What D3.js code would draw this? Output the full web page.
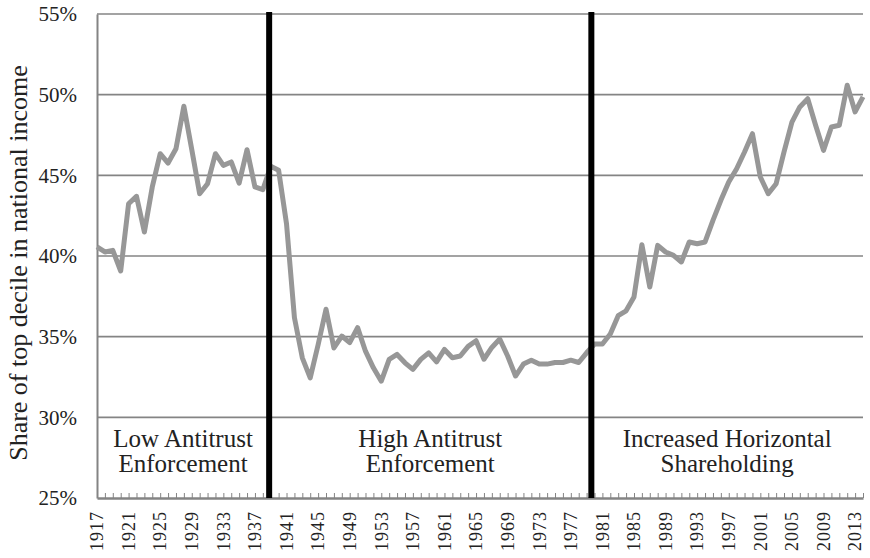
<!DOCTYPE html>
<html lang="en">
<head>
    <meta charset="UTF-8">
    <title>Top decile share</title>
    <script src="https://d3js.org/d3.v7.min.js"></script>
    <style>
        body { margin: 0; background: #fff; }
    </style>
</head>
<body>
<svg id="myPlot" width="870" height="558"></svg>

<script>
    // share of top decile in national income, 1917-2014
    const years = [
        1917, 1918, 1919, 1920, 1921, 1922, 1923, 1924, 1925, 1926,
        1927, 1928, 1929, 1930, 1931, 1932, 1933, 1934, 1935, 1936,
        1937, 1938, 1939, 1940, 1941, 1942, 1943, 1944, 1945, 1946,
        1947, 1948, 1949, 1950, 1951, 1952, 1953, 1954, 1955, 1956,
        1957, 1958, 1959, 1960, 1961, 1962, 1963, 1964, 1965, 1966,
        1967, 1968, 1969, 1970, 1971, 1972, 1973, 1974, 1975, 1976,
        1977, 1978, 1979, 1980, 1981, 1982, 1983, 1984, 1985, 1986,
        1987, 1988, 1989, 1990, 1991, 1992, 1993, 1994, 1995, 1996,
        1997, 1998, 1999, 2000, 2001, 2002, 2003, 2004, 2005, 2006,
        2007, 2008, 2009, 2010, 2011, 2012, 2013, 2014
    ];
    const share = [
        40.56, 40.25, 40.35, 39.07, 43.24, 43.70, 41.49, 44.28, 46.34, 45.76,
        46.65, 49.28, 46.60, 43.86, 44.48, 46.34, 45.62, 45.83, 44.52, 46.59,
        44.28, 44.11, 45.56, 45.31, 41.99, 36.18, 33.69, 32.45, 34.50, 36.70,
        34.30, 35.04, 34.63, 35.56, 34.10, 33.07, 32.24, 33.59, 33.90, 33.38,
        32.97, 33.59, 34.00, 33.44, 34.21, 33.69, 33.80, 34.40, 34.75, 33.60,
        34.33, 34.85, 33.80, 32.56, 33.30, 33.54, 33.30, 33.30, 33.40, 33.40,
        33.54, 33.40, 34.00, 34.54, 34.54, 35.17, 36.30, 36.60, 37.46, 40.70,
        38.08, 40.66, 40.25, 40.04, 39.63, 40.87, 40.76, 40.87, 42.21, 43.45,
        44.59, 45.41, 46.45, 47.58, 44.90, 43.86, 44.48, 46.45, 48.30, 49.24,
        49.75, 48.10, 46.55, 48.00, 48.10, 50.58, 48.93, 49.86
    ];

    const yTicks = [25, 30, 35, 40, 45, 50, 55];
    const yTickLabels = ["25%", "30%", "35%", "40%", "45%", "50%", "55%"];
    const xTickYears = [1917, 1921, 1925, 1929, 1933, 1937, 1941, 1945, 1949, 1953,
        1957, 1961, 1965, 1969, 1973, 1977, 1981, 1985, 1989, 1993,
        1997, 2001, 2005, 2009, 2013];

    // period boundaries (black bars) and their labels
    const breaks = [1938.8, 1979.6];
    const periodLabels = [
        ["Low Antitrust", "Enforcement"],
        ["High Antitrust", "Enforcement"],
        ["Increased Horizontal", "Shareholding"]
    ];

    const serif = "'Liberation Serif', 'DejaVu Serif', serif";
    const plotLeft = 97, plotRight = 863, plotTop = 14, plotBottom = 498;

    const svg = d3.select("#myPlot");

    const x = d3.scaleLinear()
        .domain([1917, 2014])
        .range([plotLeft, plotRight]);

    const y = d3.scaleLinear()
        .domain([25, 55])
        .range([plotBottom, plotTop]);

    // horizontal grid
    svg.append("g")
        .selectAll("line")
        .data(yTicks.slice(1)).enter()
        .append("line")
        .attr("x1", plotLeft)
        .attr("x2", plotRight)
        .attr("y1", function (d) { return y(d); })
        .attr("y2", function (d) { return y(d); })
        .style("stroke", "#848484")
        .style("stroke-width", 1.6);

    // y axis
    const yAxis = svg.append("g")
        .attr("transform", "translate(" + plotLeft + ",0)")
        .call(d3.axisLeft(y)
            .tickValues(yTicks)
            .tickSize(0)
            .tickPadding(20)
            .tickFormat(function (d, i) { return yTickLabels[i]; }));
    yAxis.select(".domain")
        .attr("stroke", "#848484")
        .attr("stroke-width", 2);
    yAxis.selectAll("text")
        .style("font-family", serif)
        .style("font-size", "21px")
        .attr("fill", "#222")
        .attr("dy", "0.32em");

    // x axis: yearly minor ticks pointing up, labels every four years
    const xAxis = svg.append("g")
        .attr("transform", "translate(0," + plotBottom + ")")
        .call(d3.axisBottom(x)
            .tickValues(years)
            .tickSizeInner(-5)
            .tickSizeOuter(0)
            .tickFormat(""));
    xAxis.select(".domain")
        .attr("stroke", "#848484")
        .attr("stroke-width", 2.5);
    xAxis.selectAll(".tick line")
        .attr("stroke", "#848484")
        .attr("stroke-width", 1);

    svg.append("g")
        .selectAll("text")
        .data(xTickYears).enter()
        .append("text")
        .attr("transform", function (d) {
            return "translate(" + x(d) + "," + (plotBottom + 13) + ") rotate(-90)";
        })
        .attr("text-anchor", "end")
        .attr("dy", "0.35em")
        .attr("fill", "#222")
        .style("font-family", serif)
        .style("font-size", "18px")
        .style("letter-spacing", "1px")
        .text(function (d) { return d; });

    // the series
    const line = d3.line()
        .x(function (d, i) { return x(years[i]); })
        .y(function (d) { return y(d); });

    svg.append("path")
        .datum(share)
        .attr("d", line)
        .style("fill", "none")
        .style("stroke", "#979797")
        .style("stroke-width", 5)
        .style("stroke-linejoin", "round");

    // black period separators
    svg.append("g")
        .selectAll("line")
        .data(breaks).enter()
        .append("line")
        .attr("x1", function (d) { return x(d); })
        .attr("x2", function (d) { return x(d); })
        .attr("y1", y(55) - 2)
        .attr("y2", plotBottom)
        .style("stroke", "#000")
        .style("stroke-width", 6);

    // period labels
    const edges = [1917].concat(breaks, [2014]);
    const labels = svg.append("g")
        .selectAll("text")
        .data(periodLabels).enter()
        .append("text")
        .attr("text-anchor", "middle")
        .attr("fill", "#222")
        .style("font-family", serif)
        .style("font-size", "25px");
    labels.each(function (d, i) {
        const cx = (x(edges[i]) + x(edges[i + 1])) / 2;
        d3.select(this).selectAll("tspan")
            .data(d).enter()
            .append("tspan")
            .attr("x", cx)
            .attr("y", function (t, j) { return 447 + j * 25; })
            .text(function (t) { return t; });
    });

    // y axis title
    svg.append("text")
        .attr("transform", "translate(27," + ((plotTop + plotBottom) / 2 + 7) + ") rotate(-90)")
        .attr("text-anchor", "middle")
        .attr("fill", "#222")
        .style("font-family", serif)
        .style("font-size", "26px")
        .text("Share of top decile in national income");
</script>
</body>
</html>
